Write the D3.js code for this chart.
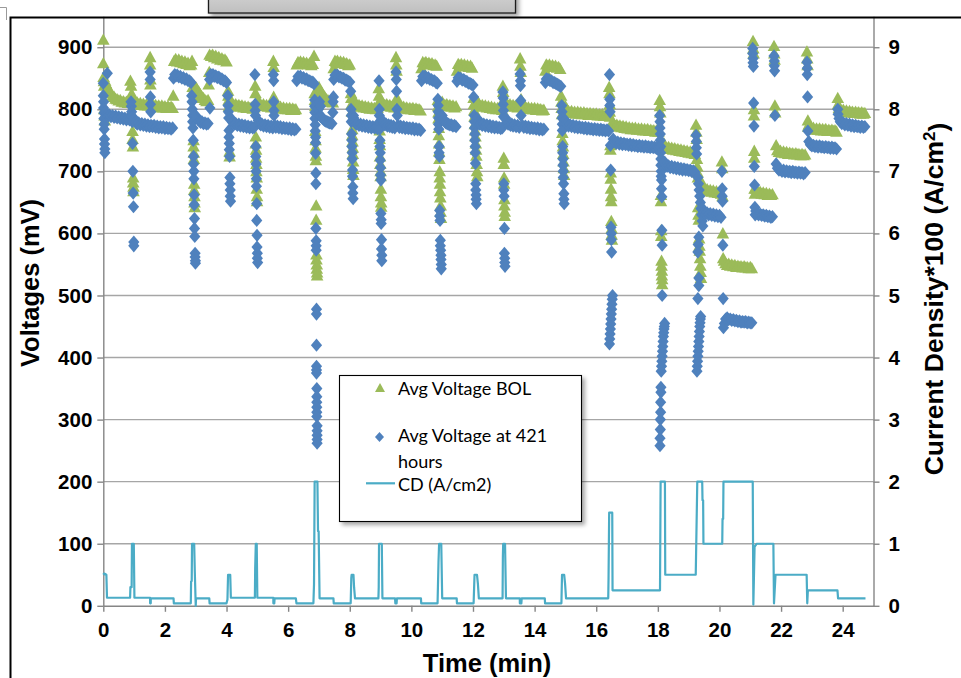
<!DOCTYPE html>
<html>
<head>
<meta charset="utf-8">
<script src="https://cdn.jsdelivr.net/npm/d3@7"></script>
<style>
  html, body { margin: 0; padding: 0; background: #fff; }
  svg { display: block; }
</style>
</head>
<body>
<svg id="chart" width="961" height="678"></svg>
<script>
// ---- axis ticks ----
const timeTicks = [0, 2, 4, 6, 8, 10, 12, 14, 16, 18, 20, 22, 24];
const voltTicks = [0, 100, 200, 300, 400, 500, 600, 700, 800, 900];
const cdTicks = [0, 1, 2, 3, 4, 5, 6, 7, 8, 9];

// ---- series names ----
const seriesNames = ["Avg Voltage BOL", "Avg Voltage at 421 hours", "CD (A/cm2)"];

// ---- Avg Voltage BOL: [time (min), mV] ----
const bolPoints = [
[0.00,912],[0.00,874],[0.01,852],[0.02,845],[0.03,838],[0.03,800],[0.04,790],[0.05,782],[0.06,846],[0.08,842],
[0.10,840],[0.15,834],[0.20,829],[0.25,826],[0.30,822],[0.35,820],[0.40,817],[0.45,816],[0.50,814],[0.55,815],[0.60,812],[0.65,813],[0.70,811],[0.75,812],[0.80,810],[0.85,811],
[0.88,846],[0.90,838],[0.92,825],[0.93,818],[0.95,765],[0.95,752],[0.96,740],[0.97,690],[0.97,682],[0.98,675],[0.98,668],
[1.00,812],[1.05,809],[1.10,811],[1.15,808],[1.20,810],[1.25,807],[1.30,809],[1.35,806],[1.40,808],[1.45,806],[1.50,807],
[1.52,884],[1.52,872],[1.53,848],[1.53,840],
[1.55,806],[1.60,808],[1.65,805],[1.70,807],[1.75,804],[1.80,806],[1.85,803],[1.90,806],[1.95,803],[2.00,805],[2.05,802],[2.10,805],[2.15,802],[2.20,804],[2.25,802],[2.27,822],
[2.30,878],[2.35,881],[2.40,877],[2.45,880],[2.50,876],[2.55,878],[2.60,874],[2.65,877],[2.70,873],[2.75,875],[2.80,871],[2.85,872],[2.88,878],
[2.90,836],[2.91,828],[2.92,818],[2.93,750],[2.93,740],[2.94,730],[2.94,720],[2.95,680],[2.95,670],[2.96,660],[2.96,650],[2.97,642],
[3.00,836],[3.05,832],[3.10,828],[3.15,824],[3.20,820],[3.25,818],[3.30,815],[3.35,813],[3.40,815],[3.42,840],[3.44,860],
[3.45,888],[3.50,886],[3.55,888],[3.60,884],[3.65,886],[3.70,882],[3.75,884],[3.80,880],[3.85,882],[3.90,879],[3.95,880],[4.00,877],
[4.05,830],[4.06,822],[4.07,815],[4.08,805],[4.10,732],[4.10,724],
[4.15,812],[4.20,808],[4.25,806],[4.30,808],[4.35,805],[4.40,807],[4.45,804],[4.50,806],[4.55,803],[4.60,805],[4.65,802],[4.70,804],[4.75,802],[4.80,803],[4.85,801],[4.90,803],
[4.93,838],[4.94,826],[4.95,756],[4.95,745],[4.96,735],[4.96,722],[4.97,712],[4.97,700],[4.98,690],[4.98,672],[4.99,660],[4.99,652],
[5.02,815],[5.06,810],[5.10,808],[5.15,806],[5.20,808],[5.25,805],[5.30,807],[5.35,804],[5.40,806],[5.45,803],[5.50,805],
[5.52,878],[5.53,868],[5.53,820],
[5.55,806],[5.60,803],[5.65,805],[5.70,802],[5.75,804],[5.80,801],[5.85,803],[5.90,800],[5.95,802],[6.00,800],[6.05,802],[6.10,799],[6.15,801],[6.20,799],[6.25,800],
[6.28,872],[6.32,876],[6.36,874],[6.40,877],[6.45,874],[6.50,876],[6.55,873],[6.60,875],[6.65,872],[6.70,874],[6.75,871],[6.80,873],[6.84,886],
[6.86,826],[6.87,815],[6.88,805],[6.88,765],[6.89,750],[6.89,738],[6.90,725],[6.90,718],[6.91,645],[6.91,622],[6.92,566],[6.92,558],[6.93,550],[6.93,543],[6.94,537],[6.94,532],
[7.00,836],[7.05,830],[7.10,826],[7.15,822],[7.20,819],[7.25,816],[7.30,814],[7.35,812],[7.40,812],[7.45,811],
[7.48,866],[7.52,878],[7.56,876],[7.60,878],[7.65,875],[7.70,877],[7.75,874],[7.80,876],[7.85,873],[7.90,874],[7.95,871],[8.00,872],
[8.04,826],[8.05,818],[8.06,808],[8.07,796],[8.08,768],[8.08,758],[8.09,748],[8.10,738],[8.10,728],[8.11,716],[8.11,704],[8.12,694],
[8.15,815],[8.20,808],[8.25,805],[8.30,807],[8.35,804],[8.40,806],[8.45,803],[8.50,805],[8.55,802],[8.60,804],[8.65,801],[8.70,803],[8.75,801],[8.80,802],[8.85,800],[8.90,802],
[8.94,834],[8.95,822],[8.96,812],[8.97,766],[8.97,752],[8.98,742],[8.98,724],[8.99,712],[9.00,700],[9.00,692],[9.01,672],[9.01,660],[9.02,650],[9.02,643],
[9.05,812],[9.10,808],[9.15,806],[9.20,808],[9.25,805],[9.30,807],[9.35,804],[9.40,806],[9.45,803],
[9.50,884],[9.51,872],[9.52,862],[9.53,818],
[9.55,806],[9.60,803],[9.65,805],[9.70,802],[9.75,804],[9.80,801],[9.85,803],[9.90,800],[9.95,802],[10.00,800],[10.05,802],[10.10,799],[10.15,801],[10.20,799],[10.25,800],[10.30,798],
[10.33,866],[10.37,876],[10.42,874],[10.47,876],[10.52,873],[10.57,875],[10.62,872],[10.67,874],[10.72,871],[10.77,872],[10.82,870],
[10.86,815],[10.87,805],[10.88,795],[10.88,785],[10.89,770],[10.89,758],[10.90,745],[10.90,732],[10.91,720],[10.92,700],[10.92,690],[10.93,680],[10.93,668],[10.94,658],[10.95,645],[10.95,635],[10.96,625],
[11.00,812],[11.05,808],[11.10,806],[11.15,808],[11.20,805],[11.25,807],[11.30,804],[11.35,806],[11.40,803],[11.45,805],
[11.48,862],[11.52,873],[11.57,871],[11.62,873],[11.67,870],[11.72,872],[11.77,869],[11.82,871],[11.87,868],[11.92,870],[11.97,867],
[12.02,818],[12.03,808],[12.04,798],[12.05,788],[12.06,776],[12.07,766],[12.08,756],[12.09,745],[12.10,735],[12.11,725],[12.12,712],[12.13,700],[12.14,692],
[12.16,812],[12.20,808],[12.25,805],[12.30,807],[12.35,804],[12.40,806],[12.45,803],[12.50,805],[12.55,802],[12.60,804],[12.65,801],[12.70,803],[12.75,800],[12.80,802],[12.85,800],[12.90,801],[12.95,799],
[12.97,838],[12.98,828],[12.99,815],[13.00,722],[13.00,712],[13.01,690],[13.01,680],[13.02,655],[13.02,645],[13.03,635],[13.03,628],
[13.06,812],[13.10,808],[13.15,806],[13.20,808],[13.25,805],[13.30,807],[13.35,804],[13.40,806],[13.45,803],[13.50,805],
[13.53,882],[13.54,870],[13.55,860],[13.56,816],
[13.60,805],[13.65,802],[13.70,804],[13.75,801],[13.80,803],[13.85,800],[13.90,802],[13.95,800],[14.00,802],[14.05,799],[14.10,801],[14.15,799],[14.20,800],[14.25,798],[14.30,799],
[14.35,862],[14.38,872],[14.43,870],[14.48,872],[14.53,869],[14.58,871],[14.63,868],[14.68,870],[14.73,867],[14.78,868],[14.83,865],
[14.86,822],[14.87,812],[14.88,802],[14.89,792],[14.90,762],[14.91,750],[14.92,740],[14.93,728],[14.94,716],[14.95,705],[14.96,694],
[15.00,805],[15.05,800],[15.10,797],[15.15,795],[15.20,797],[15.25,794],[15.30,796],[15.35,793],[15.40,796],[15.45,793],[15.50,795],[15.55,792],[15.60,795],[15.65,792],[15.70,794],[15.75,791],[15.80,794],[15.85,791],[15.90,793],[15.95,791],[16.00,793],[16.05,790],[16.10,792],[16.15,790],[16.20,792],[16.25,789],[16.30,791],[16.35,789],[16.40,790],
[16.42,836],[16.43,826],[16.44,808],[16.44,796],[16.45,788],[16.46,742],[16.46,735],[16.47,698],[16.47,688],[16.48,672],[16.48,660],[16.49,652],[16.49,620],[16.50,608],[16.50,598],[16.51,590],
[16.53,780],[16.57,776],[16.62,773],[16.67,775],[16.72,772],[16.77,774],[16.82,771],[16.87,773],[16.92,770],[16.97,772],[17.02,769],[17.07,771],[17.12,768],[17.17,770],[17.22,768],[17.27,770],[17.32,767],[17.37,769],[17.42,767],[17.47,769],[17.52,766],[17.57,768],[17.62,766],[17.67,768],[17.72,765],[17.77,767],[17.82,765],[17.87,766],[17.92,764],[17.97,766],[18.02,764],
[18.06,815],[18.07,805],[18.08,795],[18.10,662],[18.10,652],[18.11,605],[18.11,596],[18.12,556],[18.12,548],[18.13,540],[18.13,532],[18.14,526],[18.14,518],
[18.20,745],[18.25,740],[18.30,737],[18.35,739],[18.40,736],[18.45,738],[18.50,735],[18.55,737],[18.60,734],[18.65,736],[18.70,733],[18.75,735],[18.80,732],[18.85,734],[18.90,731],[18.95,733],[19.00,730],[19.05,732],[19.10,729],[19.15,731],[19.20,728],
[19.24,775],[19.25,764],[19.26,752],[19.27,720],[19.28,708],[19.29,698],[19.30,690],[19.31,642],[19.32,630],[19.33,622],[19.34,592],[19.35,580],[19.36,572],[19.37,560],[19.38,548],[19.39,538],[19.40,528],
[19.45,680],[19.50,672],[19.55,669],[19.60,671],[19.65,668],[19.70,670],[19.75,667],[19.80,669],[19.85,666],[19.90,668],[19.95,665],[20.00,667],[20.05,664],
[20.08,716],[20.09,705],[20.10,660],[20.11,600],[20.12,560],
[20.15,556],[20.20,552],[20.25,549],[20.30,551],[20.35,548],[20.40,550],[20.45,547],[20.50,549],[20.55,546],[20.60,548],[20.65,546],[20.70,547],[20.75,545],[20.80,547],[20.85,545],[20.90,546],[20.95,544],[21.00,546],[21.05,544],
[21.09,910],[21.10,898],[21.11,890],[21.12,800],[21.12,790],[21.13,733],[21.13,722],[21.14,672],[21.15,664],
[21.18,672],[21.22,668],[21.27,665],[21.32,667],[21.37,664],[21.42,666],[21.47,663],[21.52,665],[21.57,662],[21.62,664],[21.67,662],[21.72,663],
[21.77,902],[21.78,890],[21.79,880],[21.80,806],[21.81,795],
[21.84,742],[21.88,734],[21.93,731],[21.98,733],[22.03,730],[22.08,732],[22.13,729],[22.18,731],[22.23,728],[22.28,730],[22.33,728],[22.38,729],[22.43,727],[22.48,729],[22.53,727],[22.58,728],[22.63,726],[22.68,728],[22.73,726],[22.78,727],
[22.84,893],[22.85,882],[22.86,871],[22.87,782],[22.88,772],
[22.90,775],[22.95,771],[23.00,768],[23.05,770],[23.10,767],[23.15,769],[23.20,767],[23.25,769],[23.30,766],[23.35,768],[23.40,766],[23.45,768],[23.50,765],[23.55,767],[23.60,765],[23.65,767],[23.70,765],[23.75,766],[23.80,764],
[23.84,818],[23.85,808],
[23.88,802],[23.92,799],[23.97,797],[24.02,799],[24.07,796],[24.12,798],[24.17,795],[24.22,797],[24.27,795],[24.32,796],[24.37,794],[24.42,796],[24.47,794],[24.52,795],[24.57,793],[24.62,795],[24.67,793],[24.72,794]
];

// ---- Avg Voltage at 421 hours: [time (min), mV] ----
const hr421Points = [
[0.00,842],[0.00,822],[0.01,812],[0.01,802],[0.02,794],[0.02,785],[0.03,776],[0.03,768],[0.04,752],[0.04,744],[0.05,736],[0.05,730],[0.13,858],
[0.08,795],[0.12,792],[0.16,789],[0.20,791],[0.25,788],[0.30,790],[0.35,787],[0.40,789],[0.45,786],[0.50,788],[0.55,785],[0.60,787],[0.65,784],[0.70,786],[0.75,783],[0.80,785],[0.85,783],
[0.90,812],[0.91,805],[0.92,796],[0.93,788],[0.94,780],[0.95,745],[0.96,700],[0.97,665],[0.98,643],[0.99,586],[0.99,580],
[1.00,785],[1.05,779],[1.10,776],[1.15,778],[1.20,775],[1.25,777],[1.30,774],[1.35,776],[1.40,773],[1.45,775],[1.50,772],[1.55,774],[1.60,772],[1.65,774],[1.70,771],[1.75,773],[1.80,770],[1.85,772],[1.90,770],[1.95,772],[2.00,769],[2.05,771],[2.10,769],[2.15,770],[2.20,768],[2.25,770],
[1.52,860],[1.52,848],[1.53,820],[1.53,808],[1.54,796],
[2.28,850],[2.32,856],[2.36,854],[2.40,855],[2.45,852],[2.50,853],[2.55,850],[2.60,851],[2.65,848],[2.70,849],[2.75,846],[2.80,846],[2.85,843],
[2.87,822],[2.88,812],[2.89,800],[2.90,790],[2.90,780],[2.91,770],[2.92,750],[2.93,724],[2.93,712],[2.94,700],[2.94,688],[2.95,662],[2.95,646],[2.96,624],[2.96,608],[2.97,595],[2.98,568],[2.98,562],[2.99,556],[2.99,552],
[3.00,790],[3.04,786],[3.08,783],[3.12,781],[3.16,779],[3.20,780],[3.25,777],[3.30,778],[3.35,776],[3.40,777],[3.46,802],
[3.45,848],[3.48,856],[3.52,855],[3.56,856],[3.60,853],[3.65,854],[3.70,851],[3.75,852],[3.80,849],[3.85,849],[3.90,846],[3.95,846],[4.00,843],
[4.04,822],[4.05,806],[4.06,796],[4.07,786],[4.08,766],[4.08,755],[4.09,745],[4.09,735],[4.10,724],[4.11,690],[4.11,680],[4.12,670],[4.12,660],[4.13,652],
[4.15,785],[4.20,779],[4.25,776],[4.30,777],[4.35,774],[4.40,776],[4.45,773],[4.50,775],[4.55,772],[4.60,774],[4.65,771],[4.70,773],[4.75,770],[4.80,772],[4.85,770],[4.90,771],
[4.92,856],[4.93,808],[4.93,798],[4.94,790],[4.95,740],[4.95,724],[4.96,712],[4.96,700],[4.97,688],[4.97,676],[4.98,648],[4.98,621],[4.99,597],[4.99,578],[5.00,568],[5.00,560],[5.01,553],
[5.03,782],[5.07,777],[5.11,775],[5.15,776],[5.20,773],[5.25,775],[5.30,772],[5.35,774],[5.40,771],[5.45,773],[5.50,770],
[5.52,856],[5.53,846],[5.53,812],[5.54,798],[5.54,790],
[5.56,774],[5.60,771],[5.65,773],[5.70,770],[5.75,772],[5.80,769],[5.85,771],[5.90,769],[5.95,770],[6.00,768],[6.05,770],[6.10,767],[6.15,769],[6.20,767],[6.25,768],
[6.28,846],[6.32,853],[6.36,852],[6.40,853],[6.45,850],[6.50,851],[6.55,848],[6.60,849],[6.65,846],[6.70,846],[6.75,844],[6.80,844],[6.84,841],
[6.86,815],[6.86,805],[6.87,795],[6.87,785],[6.88,775],[6.88,765],[6.89,755],[6.89,746],[6.89,729],[6.90,697],[6.90,680],[6.90,608],[6.91,588],[6.91,580],[6.91,573],
[6.92,478],[6.92,470],[6.92,420],[6.92,386],[6.92,380],[6.92,375],[6.93,350],[6.93,337],[6.93,328],[6.93,320],[6.93,312],[6.93,305],[6.94,290],[6.94,282],[6.94,275],[6.94,268],[6.94,262],
[6.98,800],[7.00,793],[7.02,812],[7.03,790],[7.05,805],[7.06,788],[7.10,786],[7.14,784],[7.18,782],[7.22,781],[7.26,780],[7.30,779],[7.34,778],[7.38,778],[7.42,777],[7.45,795],[7.46,812],[7.47,820],
[7.48,848],[7.52,855],[7.56,854],[7.60,855],[7.65,852],[7.70,852],[7.75,850],[7.80,850],[7.85,847],[7.90,847],[7.95,845],[8.00,844],
[8.03,829],[8.04,800],[8.05,790],[8.05,780],[8.06,760],[8.07,750],[8.07,740],[8.08,730],[8.08,720],[8.09,702],[8.09,692],[8.10,675],[8.10,665],[8.11,656],
[8.12,790],[8.13,786],[8.17,779],[8.21,776],[8.25,777],[8.30,774],[8.35,776],[8.40,773],[8.45,775],[8.50,772],[8.55,774],[8.60,771],[8.65,773],[8.70,770],[8.75,772],[8.80,770],[8.85,771],[8.90,769],
[8.95,846],[8.96,800],[8.96,790],[8.97,780],[8.97,768],[8.98,750],[8.98,740],[8.99,730],[8.99,718],[9.00,706],[9.00,694],[9.01,686],[9.01,632],[9.02,622],[9.02,616],[9.03,590],[9.03,575],[9.04,565],[9.04,556],
[9.06,782],[9.10,777],[9.14,775],[9.18,776],[9.22,773],[9.26,775],[9.30,772],[9.34,774],[9.38,771],[9.42,773],[9.46,770],
[9.50,860],[9.51,848],[9.52,829],[9.53,800],[9.54,790],
[9.57,774],[9.61,771],[9.65,773],[9.70,770],[9.75,772],[9.80,769],[9.85,771],[9.90,769],[9.95,770],[10.00,768],[10.05,770],[10.10,767],[10.15,769],[10.20,767],[10.25,768],[10.30,766],
[10.33,846],[10.37,853],[10.41,853],[10.45,853],[10.50,850],[10.55,851],[10.60,848],[10.65,848],[10.70,846],[10.75,846],[10.80,843],[10.84,842],
[10.86,816],[10.87,806],[10.87,796],[10.88,786],[10.88,776],[10.89,768],[10.90,740],[10.90,730],[10.91,724],[10.92,637],[10.92,628],[10.93,621],[10.94,589],[10.94,580],[10.95,573],[10.96,565],[10.96,558],[10.97,550],[10.97,543],
[11.00,790],[11.04,784],[11.08,780],[11.12,778],[11.16,777],[11.20,776],[11.25,775],[11.30,775],[11.35,773],[11.40,774],[11.45,772],
[11.48,845],[11.52,851],[11.56,850],[11.60,850],[11.65,847],[11.70,848],[11.75,845],[11.80,845],[11.85,842],[11.90,842],[11.95,840],[12.00,839],
[12.02,820],[12.04,790],[12.05,780],[12.05,770],[12.06,760],[12.06,750],[12.07,740],[12.07,730],[12.08,713],[12.09,680],[12.09,670],[12.10,662],[12.10,655],[12.11,648],
[12.14,785],[12.18,779],[12.22,776],[12.26,777],[12.30,774],[12.35,776],[12.40,773],[12.45,775],[12.50,772],[12.55,774],[12.60,771],[12.65,773],[12.70,770],[12.75,772],[12.80,770],[12.85,771],[12.90,769],[12.95,770],
[12.97,828],[12.98,818],[12.98,808],[12.99,798],[12.99,788],[13.00,680],[13.00,670],[13.01,660],[13.02,608],[13.02,568],[13.03,560],[13.03,553],[13.04,547],
[13.06,786],[13.10,779],[13.14,776],[13.18,777],[13.22,774],[13.26,776],[13.30,773],[13.35,775],[13.40,772],[13.45,774],[13.50,771],
[13.53,857],[13.54,846],[13.54,838],[13.55,814],[13.56,790],
[13.60,774],[13.65,771],[13.70,773],[13.75,770],[13.80,772],[13.85,769],[13.90,771],[13.95,769],[14.00,770],[14.05,768],[14.10,770],[14.15,767],[14.20,769],[14.25,767],[14.30,768],
[14.35,843],[14.38,849],[14.42,848],[14.46,848],[14.50,846],[14.55,846],[14.60,843],[14.65,843],[14.70,841],[14.75,840],[14.80,838],[14.85,837],
[14.88,806],[14.89,796],[14.89,786],[14.90,776],[14.90,766],[14.91,740],[14.91,730],[14.92,720],[14.92,710],[14.93,700],[14.93,690],[14.94,680],[14.95,664],[14.95,655],[14.96,648],
[15.00,782],[15.05,776],[15.10,773],[15.15,775],[15.20,772],[15.25,774],[15.30,771],[15.35,773],[15.40,770],[15.45,772],[15.50,770],[15.55,771],[15.60,769],[15.65,771],[15.70,768],[15.75,770],[15.80,768],[15.85,769],[15.90,767],[15.95,769],[16.00,767],[16.05,768],[16.10,766],[16.15,768],[16.20,766],[16.25,767],[16.30,765],[16.35,767],[16.40,765],
[16.43,856],[16.44,816],[16.44,806],[16.45,796],[16.46,742],[16.47,702],[16.48,610],[16.49,600],[16.49,590],[16.50,570],
[16.43,422],[16.44,430],[16.45,438],[16.46,446],[16.47,454],[16.48,462],[16.49,470],[16.50,478],[16.51,486],[16.52,494],[16.53,500],
[16.55,752],[16.60,748],[16.65,745],[16.70,747],[16.75,744],[16.80,746],[16.85,743],[16.90,745],[16.95,743],[17.00,744],[17.05,742],[17.10,744],[17.15,741],[17.20,743],[17.25,741],[17.30,742],[17.35,740],[17.40,742],[17.45,740],[17.50,741],[17.55,739],[17.60,741],[17.65,739],[17.70,740],[17.75,738],[17.80,740],[17.85,738],[17.90,739],[17.95,737],[18.00,739],[18.04,737],
[18.06,790],[18.07,780],[18.07,770],[18.08,760],[18.08,750],[18.09,740],[18.09,730],[18.10,720],[18.10,710],[18.11,700],[18.11,692],[18.12,686],[18.12,672],[18.13,659],[18.13,605],[18.14,581],[18.14,500],
[18.07,258],[18.07,270],[18.08,284],[18.08,300],[18.09,312],[18.09,328],[18.10,344],[18.10,352],[18.11,378],[18.12,386],[18.13,394],[18.14,402],[18.15,410],[18.16,418],[18.17,426],[18.18,434],[18.19,440],[18.20,446],[18.21,450],[18.22,455],
[18.22,715],[18.26,710],[18.30,708],[18.35,709],[18.40,706],[18.45,708],[18.50,705],[18.55,707],[18.60,704],[18.65,706],[18.70,703],[18.75,705],[18.80,702],[18.85,704],[18.90,702],[18.95,703],[19.00,701],[19.05,702],[19.10,700],[19.15,701],[19.20,699],
[19.24,758],[19.25,748],[19.25,738],[19.26,728],[19.30,690],[19.32,680],[19.34,670],[19.36,660],[19.38,650],[19.40,640],[19.42,630],[19.44,620],[19.46,612],[19.33,594],[19.31,582],[19.30,570],[19.33,528],[19.33,516],[19.30,495],
[19.27,378],[19.28,386],[19.29,394],[19.30,402],[19.31,410],[19.32,418],[19.33,426],[19.34,434],[19.35,442],[19.36,450],[19.37,456],[19.38,462],[19.39,466],
[19.45,640],[19.50,634],[19.55,631],[19.60,633],[19.65,630],[19.70,632],[19.75,629],[19.80,631],[19.85,628],[19.90,630],[19.95,627],[20.00,629],[20.05,626],
[20.08,700],[20.09,672],[20.09,660],[20.10,652],[20.11,581],[20.12,495],
[20.13,448],[20.16,455],[20.20,462],[20.25,464],[20.30,461],[20.35,462],[20.40,460],[20.45,461],[20.50,459],[20.55,460],[20.60,458],[20.65,459],[20.70,457],[20.75,458],[20.80,457],[20.85,458],[20.90,456],[20.95,457],[21.00,456],[21.05,456],
[21.08,898],[21.08,890],[21.09,882],[21.09,875],[21.10,869],[21.11,810],[21.12,773],[21.13,708],[21.14,678],[21.15,642],[21.16,630],
[21.18,636],[21.22,632],[21.27,630],[21.32,631],[21.37,629],[21.42,630],[21.47,628],[21.52,629],[21.57,627],[21.62,628],[21.67,626],[21.72,627],
[21.77,886],[21.78,878],[21.78,870],[21.79,862],[21.80,790],
[21.84,712],[21.88,705],[21.93,702],[21.98,703],[22.03,700],[22.08,702],[22.13,699],[22.18,701],[22.23,699],[22.28,700],[22.33,698],[22.38,700],[22.43,698],[22.48,699],[22.53,697],[22.58,699],[22.63,697],[22.68,698],[22.73,696],[22.78,698],
[22.84,876],[22.85,866],[22.85,856],[22.86,820],[22.87,765],
[22.90,748],[22.95,743],[23.00,741],[23.05,742],[23.10,740],[23.15,741],[23.20,739],[23.25,741],[23.30,739],[23.35,740],[23.40,738],[23.45,740],[23.50,738],[23.55,739],[23.60,737],[23.65,739],[23.70,737],[23.75,738],[23.80,736],
[23.84,800],[23.85,792],
[23.88,785],[23.92,780],[23.97,777],[24.02,778],[24.07,775],[24.12,777],[24.17,774],[24.22,776],[24.27,773],[24.32,775],[24.37,772],[24.42,774],[24.47,772],[24.52,773],[24.57,771],[24.62,773],[24.67,771],[24.72,772]
];

// ---- Current density profile: [time (min), A/cm2 x 100] ----
const cdPoints = [
[0.00,0.50],[0.03,0.52],[0.10,0.50],[0.12,0.13],
[0.87,0.13],[0.88,0.30],[0.92,0.30],[0.93,1.00],[0.99,1.00],[1.01,0.13],
[1.52,0.13],[1.52,0.04],[1.54,0.04],[1.54,0.12],
[2.28,0.12],[2.29,0.04],
[2.84,0.04],[2.85,0.39],[2.87,0.40],[2.88,1.00],[2.95,1.00],[2.97,0.55],[3.00,0.00],[3.01,0.12],
[3.44,0.12],[3.45,0.04],
[4.00,0.04],[4.03,0.10],[4.05,0.50],[4.12,0.50],[4.14,0.13],
[4.92,0.13],[4.93,0.60],[4.95,1.00],[4.98,1.00],[5.00,0.13],
[5.52,0.13],[5.52,0.04],[5.55,0.04],[5.56,0.12],
[6.25,0.12],[6.27,0.04],
[6.82,0.04],[6.84,0.35],[6.86,2.00],[6.95,2.00],[6.97,1.20],[6.99,1.20],[7.02,0.12],
[7.47,0.12],[7.48,0.04],
[8.03,0.04],[8.05,0.45],[8.06,0.50],[8.12,0.50],[8.14,0.30],[8.17,0.12],
[8.93,0.12],[8.94,0.30],[8.95,1.00],[9.04,1.00],[9.06,0.12],
[9.47,0.12],[9.48,0.04],[9.52,0.04],[9.53,0.12],
[10.31,0.12],[10.32,0.04],
[10.85,0.04],[10.88,0.70],[10.90,1.00],[10.97,1.00],[11.00,0.12],
[11.47,0.12],[11.48,0.04],
[12.02,0.04],[12.05,0.50],[12.13,0.50],[12.16,0.35],[12.19,0.12],
[12.96,0.12],[12.97,0.80],[12.98,1.00],[13.04,1.00],[13.07,0.12],
[13.52,0.12],[13.52,0.04],[13.57,0.04],[13.58,0.12],
[14.33,0.12],[14.34,0.04],
[14.87,0.04],[14.89,0.50],[14.96,0.50],[14.99,0.35],[15.02,0.12],
[16.39,0.12],[16.40,0.45],[16.42,1.50],[16.52,1.50],[16.53,0.25],
[18.07,0.25],[18.09,2.00],[18.23,2.00],[18.24,0.50],
[19.23,0.50],[19.28,2.00],[19.44,2.00],[19.45,1.70],[19.47,1.70],[19.48,1.00],
[20.09,1.00],[20.10,1.40],[20.12,1.40],[20.13,2.00],
[21.08,2.00],[21.10,0.02],[21.14,0.95],[21.21,1.00],[21.75,1.00],[21.77,0.04],[21.82,0.50],
[22.83,0.50],[22.85,0.04],[22.87,0.25],
[23.83,0.25],[23.85,0.12],[24.74,0.12]
];

// ---- palette ----
const colBOL = "#9BBB59";
const col421 = "#4F81BD";
const colCD = "#4BACC6";
const axisGrey = "#868686";
const gridGrey = "#a6a6a6";

const svg = d3.select("#chart");

const defs = svg.append("defs");
const shadow = defs.append("filter").attr("id", "shadow")
  .attr("x", "-10%").attr("y", "-10%").attr("width", "130%").attr("height", "140%");
shadow.append("feDropShadow").attr("dx", 3).attr("dy", 3).attr("stdDeviation", 2.2)
  .attr("flood-color", "#000").attr("flood-opacity", 0.35);
const boxGrad = defs.append("linearGradient").attr("id", "boxGrad")
  .attr("x1", 0).attr("y1", 0).attr("x2", 0).attr("y2", 1);
boxGrad.append("stop").attr("offset", "0%").attr("stop-color", "#d6d6d6");
boxGrad.append("stop").attr("offset", "100%").attr("stop-color", "#bfbfbf");

// scales
const x = d3.scaleLinear().domain([0, 25]).range([103.3, 873.5]);
const y = d3.scaleLinear().domain([0, 950]).range([605.8, 16.2]);
const y2 = d3.scaleLinear().domain([0, 9.5]).range([605.8, 16.2]);

// box of the chart title partly above the frame
svg.append("rect")
  .attr("x", 208.5).attr("y", -12).attr("width", 307).attr("height", 25)
  .attr("fill", "url(#boxGrad)").attr("stroke", "#1e1e1e").attr("stroke-width", 1.3)
  .attr("filter", "url(#shadow)");
svg.append("path").attr("d", "M0,7.5H6.5V20").attr("fill", "none")
  .attr("stroke", "#9a9a9a").attr("stroke-width", 1);

// gridlines
svg.append("g").selectAll("line")
  .data(voltTicks.filter(v => v > 0))
  .join("line")
  .attr("x1", x(0)).attr("x2", x(25))
  .attr("y1", d => y(d)).attr("y2", d => y(d))
  .attr("stroke", gridGrey).attr("stroke-width", 1.4);

const tickFont = "'Liberation Sans', Arial, sans-serif";

function styleAxis(g) {
  g.selectAll(".domain").attr("stroke", axisGrey).attr("stroke-width", 1.4);
  g.selectAll(".tick line").attr("stroke", axisGrey).attr("stroke-width", 1.4);
  g.selectAll(".tick text")
    .attr("fill", "#000")
    .style("font-family", tickFont)
    .style("font-weight", "bold")
    .style("font-size", "20.5px");
}

// left voltage axis
svg.append("g")
  .attr("transform", `translate(${x(0)},0)`)
  .call(d3.axisLeft(y).tickValues(voltTicks).tickSize(6).tickSizeOuter(0).tickPadding(5))
  .call(styleAxis);

// right current-density axis
svg.append("g")
  .attr("transform", `translate(${x(25)},0)`)
  .call(d3.axisRight(y2).tickValues(cdTicks).tickSize(6).tickSizeOuter(0).tickPadding(9))
  .call(styleAxis);

// time axis
svg.append("g")
  .attr("transform", `translate(0,${y(0)})`)
  .call(d3.axisBottom(x).tickValues(timeTicks).tickSize(6).tickSizeOuter(0).tickPadding(11))
  .call(styleAxis);

// marker shapes
const triPath = "M0,-6.3L6.3,5L-6.3,5Z";
const diaPath = "M0,-6.6L5.6,0L0,6.6L-5.6,0Z";

svg.append("g").selectAll("path")
  .data(bolPoints)
  .join("path")
  .attr("d", triPath)
  .attr("transform", d => `translate(${x(d[0]).toFixed(2)},${y(d[1]).toFixed(2)})`)
  .attr("fill", colBOL);

svg.append("g").selectAll("path")
  .data(hr421Points)
  .join("path")
  .attr("d", diaPath)
  .attr("transform", d => `translate(${x(d[0]).toFixed(2)},${y(d[1]).toFixed(2)})`)
  .attr("fill", col421);

// current density step line
svg.append("path")
  .datum(cdPoints)
  .attr("d", d3.line().x(d => x(d[0])).y(d => y2(d[1])))
  .attr("fill", "none")
  .attr("stroke", colCD)
  .attr("stroke-width", 2.2)
  .attr("stroke-linejoin", "round");

// outer frame
svg.append("path").attr("d", "M10.5,678V17.5H961")
  .attr("fill", "none").attr("stroke", "#000").attr("stroke-width", 2);

// axis titles
const titleStyle = sel => sel
  .style("font-family", tickFont).style("font-weight", "bold")
  .style("font-size", "25.5px").attr("fill", "#000").attr("text-anchor", "middle");

svg.append("text").attr("transform", "translate(39,283) rotate(-90)")
  .text("Voltages (mV)").call(titleStyle);

const rt = svg.append("text").attr("transform", "translate(943,299) rotate(-90)").call(titleStyle)
  .style("font-size", "26.5px");
rt.append("tspan").text("Current Density*100 (A/cm");
rt.append("tspan").attr("dy", "-0.45em").style("font-size", "17px").text("2");
rt.append("tspan").attr("dy", "0.45em").text(")");

svg.append("text").attr("x", 487).attr("y", 672)
  .text("Time (min)").call(titleStyle);

// legend
const lg = svg.append("g");
lg.append("rect")
  .attr("x", 339.5).attr("y", 375.5).attr("width", 242).attr("height", 146)
  .attr("fill", "#fff").attr("stroke", "#000").attr("stroke-width", 1.1)
  .attr("filter", "url(#shadow)");
const lgFont = "Lato, 'Open Sans', sans-serif";
const lgText = (xx, yy, s) => lg.append("text").attr("x", xx).attr("y", yy)
  .style("font-family", lgFont).style("font-size", "18px").attr("fill", "#000").text(s);

lg.append("path").attr("d", "M0,-5L5,4L-5,4Z").attr("transform", "translate(380,388)").attr("fill", colBOL);
lgText(398, 394.5, seriesNames[0]);
lg.append("path").attr("d", "M0,-5L4.5,0L0,5L-4.5,0Z").attr("transform", "translate(379.5,437)").attr("fill", col421);
lgText(398, 442, seriesNames[1].slice(0, 18));
lgText(398, 468, seriesNames[1].slice(19));
lg.append("line").attr("x1", 366).attr("x2", 395).attr("y1", 483.3).attr("y2", 483.3)
  .attr("stroke", colCD).attr("stroke-width", 2.2);
lgText(398, 490.5, seriesNames[2]);
</script>
</body>
</html>
